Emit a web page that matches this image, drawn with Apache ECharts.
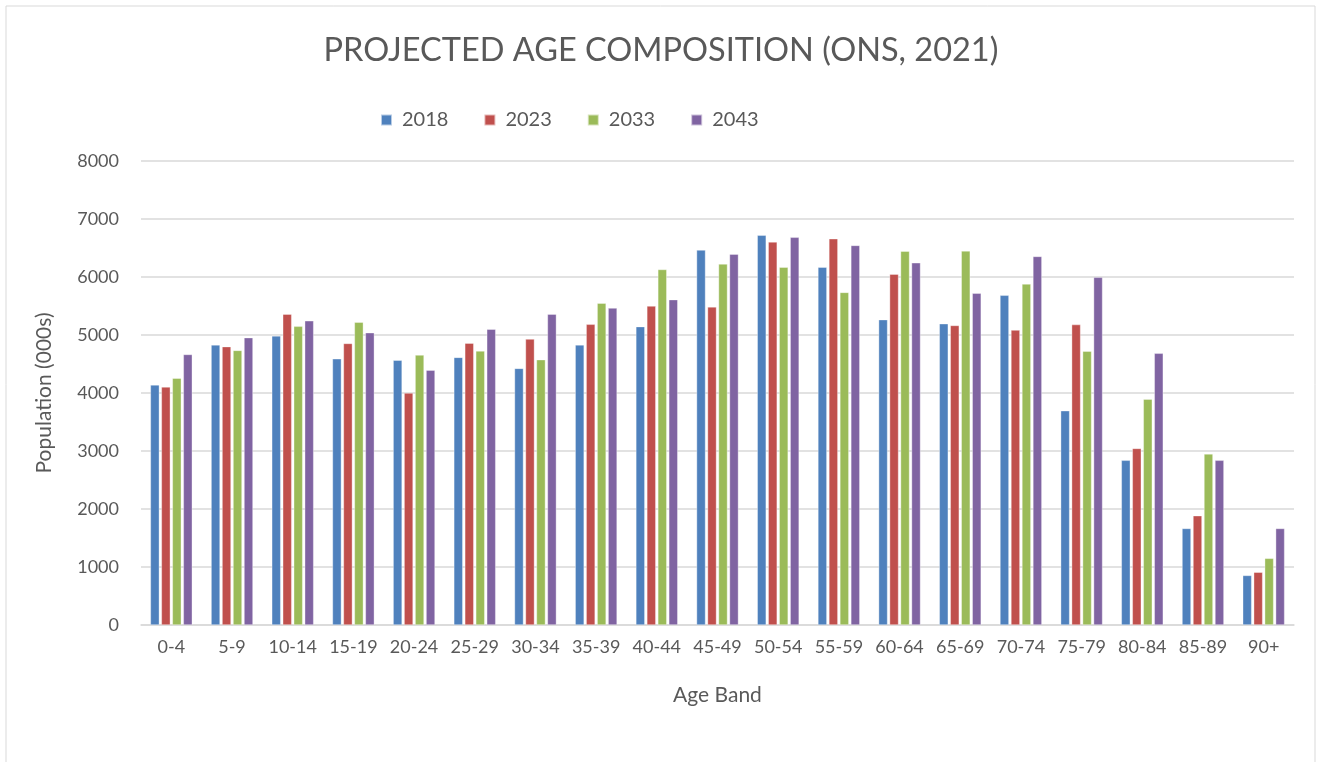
<!DOCTYPE html>
<html>
<head>
<meta charset="utf-8">
<script src="https://cdn.jsdelivr.net/npm/echarts@6/dist/echarts.min.js"></script>
<style>
html,body{margin:0;padding:0;background:#fff;}
#chart{width:1322px;height:762px;}
</style>
</head>
<body>
<div id="chart"></div>
<script>
var categories = ['0-4','5-9','10-14','15-19','20-24','25-29','30-34','35-39','40-44','45-49','50-54','55-59','60-64','65-69','70-74','75-79','80-84','85-89','90+'];
var s2018 = [4140,4830,4985,4590,4565,4615,4425,4830,5145,6465,6720,6170,5265,5195,5685,3695,2840,1665,855];
var s2023 = [4105,4800,5360,4855,4000,4860,4930,5185,5500,5485,6605,6660,6050,5165,5085,5180,3045,1885,910];
var s2033 = [4255,4735,5150,5220,4655,4725,4575,5550,6130,6225,6170,5735,6445,6450,5880,4720,3895,2950,1150];
var s2043 = [4665,4955,5245,5040,4395,5100,5360,5465,5610,6395,6685,6545,6245,5720,6355,5995,4685,2840,1665];
var seriesNames = ['2018','2023','2033','2043'];
var colors = ['#4F81BD','#C0504D','#9BBB59','#8064A2'];
var yTicks = {min:0, max:8000, interval:1000};

var font = 'Lato, "Open Sans", sans-serif';
var chart = echarts.init(document.getElementById('chart'), null, {renderer:'canvas'});
var data = [s2018, s2023, s2033, s2043];
var series = seriesNames.map(function(n, i){
  return {
    name: n, type: 'bar', data: data[i],
    barWidth: 9, barGap: '22%',
    itemStyle: {color: colors[i], borderColor: 'rgba(255,255,255,0.6)', borderWidth: 0.6},
    emphasis: {disabled: true}
  };
});
chart.setOption({
  animation: false,
  color: colors,
  textStyle: {fontFamily: font},
  graphic: [{type:'rect', shape:{x:6, y:6, width:1309, height:770}, style:{fill:'none', stroke:'#d9d9d9', lineWidth:1}, silent:true}],
  title: {text: 'PROJECTED AGE COMPOSITION (ONS, 2021)', left: 'center', top: 29,
    textStyle: {fontFamily: font, fontSize: 32.5, fontWeight: 'normal', color: '#595959'}},
  legend: {data: seriesNames, left: 375, top: 105, itemWidth: 11, itemHeight: 11, itemGap: 35,
    icon: 'rect', textStyle: {fontFamily: font, fontSize: 20, color: '#595959', padding:[0,0,0,5]}},
  grid: {left: 141, right: 28, top: 161, bottom: 137, containLabel: false},
  xAxis: {type: 'category', data: categories,
    name: 'Age Band', nameLocation: 'middle', nameGap: 60,
    nameTextStyle: {fontFamily: font, fontSize: 21, color: '#595959'},
    axisLine: {lineStyle: {color: '#d9d9d9', width: 1.5}},
    axisTick: {show: false},
    axisLabel: {fontFamily: font, fontSize: 18, color: '#595959', margin: 13, interval: 0}},
  yAxis: {type: 'value', min: yTicks.min, max: yTicks.max, interval: yTicks.interval,
    name: 'Population (000s)', nameLocation: 'middle', nameGap: 86,
    nameTextStyle: {fontFamily: font, fontSize: 21, color: '#595959'},
    axisLine: {show: false}, axisTick: {show: false},
    splitLine: {lineStyle: {color: '#d9d9d9', width: 1.5}},
    axisLabel: {fontFamily: font, fontSize: 18, color: '#595959', margin: 22,
      formatter: function(v){ return String(v); }}},
  series: series
});
</script>
</body>
</html>
